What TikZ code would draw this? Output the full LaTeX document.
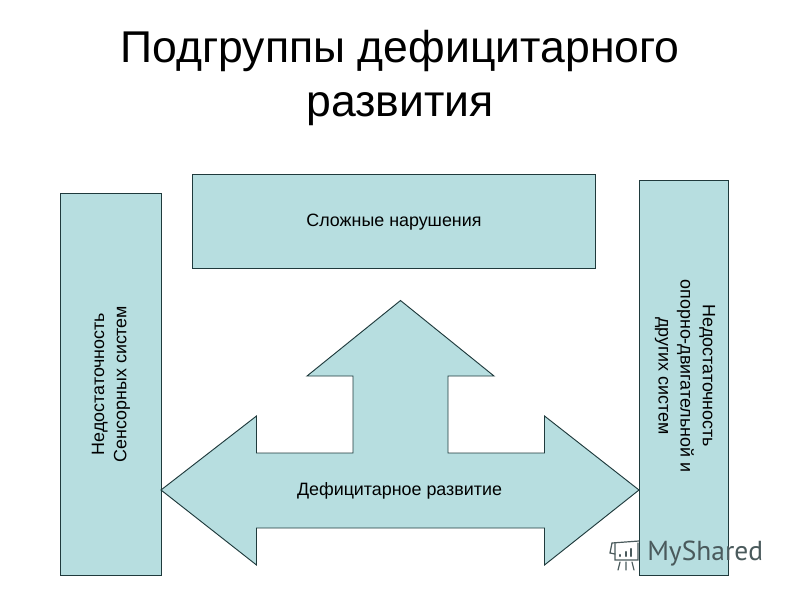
\documentclass[tikz,border=0pt]{standalone}
\usepackage{fontspec}
\setmainfont{Liberation Sans}
\newfontfamily\wmfont{PT Sans}
\definecolor{boxfill}{HTML}{B7DEE0}
\definecolor{boxline}{HTML}{1F3A3C}
\definecolor{wmgrey}{HTML}{4A5A5C}
\tikzset{
  panel/.style={draw=boxline,fill=boxfill,line width=0.7pt},
  lbl/.style={font=\fontsize{13.4}{16.6}\selectfont,align=center,text=black},
  wm/.style={wmgrey,line width=0.9pt,line cap=round}
}
\begin{document}
\begin{tikzpicture}[x=0.75pt,y=-0.75pt]
    \useasboundingbox(0,0)rectangle(800,600);
    \node[font=\fontsize{33.4}{40.5}\selectfont,align=center](title)at(400,78){Подгруппы дефицитарного\\развития};
    \draw[panel](60,193)rectangle(161,575);
    \draw[panel](192,174)rectangle(595,268);
    \draw[panel](639,180)rectangle(728,575);
    % three headed arrow
    \draw[panel](400.5,300.5)--(494,376)--(448,376)--(448,453)--(544.5,453)--(544.5,416)--(639,490)--(544.5,565)--(544.5,528)--(256.5,528)--(256.5,565)--(161,490)--(256.5,416)--(256.5,453)--(353,453)--(353,376)--(307,376)--cycle;
    \node[lbl](complex)at(394,222){Сложные нарушения};
    \node[lbl](deficit)at(399.5,491){Дефицитарное развитие};
    \node[lbl,rotate=90](sensory)at(111,384){Недостаточность\\Сенсорных систем};
    \node[lbl,rotate=-90](motor)at(685,376){Недостаточность\\опорно-двигательной и\\других систем};
    % watermark
    \node[font=\wmfont\fontsize{20.6}{24}\selectfont,text=wmgrey,anchor=west,inner sep=0pt](brand)at(647,554){MyShared};
    \draw[wm](612,543)--(639,541)(615,544)--(615,560)--(638,560)--(638,543);
    \draw[wm](612,543)--(610,553)--(615,554);
    \draw[wm,line width=1.6pt](620,556)--(620,555)(626,556)--(626,552)(631,556)--(631,549);
    \draw[wm](620,562)--(618,570)(626,562)--(626,570)(632,562)--(634,570);
\end{tikzpicture}
\end{document}
